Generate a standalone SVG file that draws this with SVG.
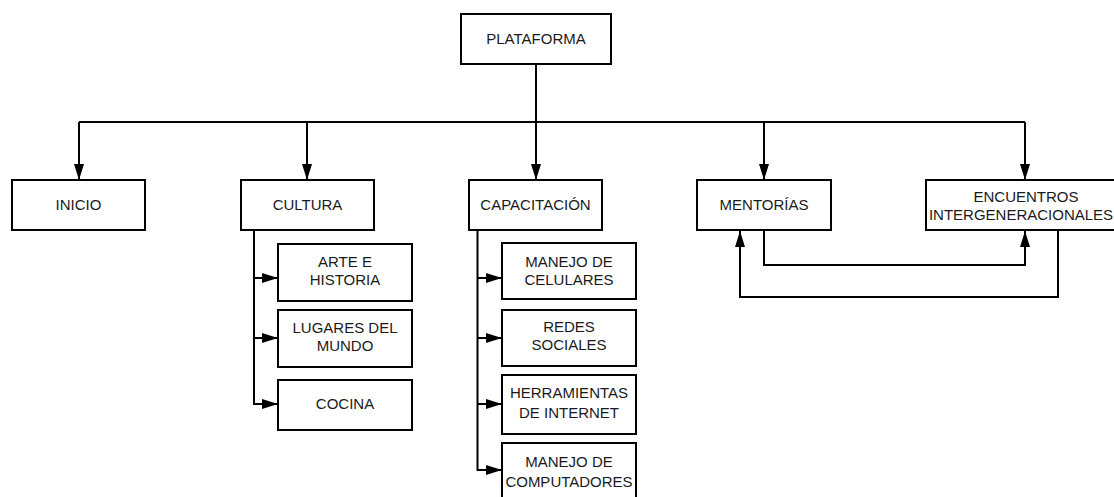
<svg xmlns="http://www.w3.org/2000/svg" width="1114" height="497" viewBox="0 0 1114 497">
<defs>
<marker id="arr" markerWidth="16" markerHeight="10" refX="16" refY="5" orient="auto" markerUnits="userSpaceOnUse">
<path d="M0,0 L16,5 L0,10 Z" fill="#000"/>
</marker>
<style>
.box{fill:#fff;stroke:#000;stroke-width:2}
.t{font-family:"Liberation Sans",Arial,sans-serif;font-size:15px;fill:#1a1a1a;text-anchor:middle}
.c{fill:none;stroke:#000;stroke-width:2}
</style>
</defs>
<rect width="1114" height="497" fill="#fff"/>
<g id="connectors">
<path class="c" d="M536,64 V180" marker-end="url(#arr)"/>
<path class="c" d="M79,122 H1025"/>
<path class="c" d="M79,122 V180" marker-end="url(#arr)"/>
<path class="c" d="M307,122 V180" marker-end="url(#arr)"/>
<path class="c" d="M764,122 V180" marker-end="url(#arr)"/>
<path class="c" d="M1025,122 V180" marker-end="url(#arr)"/>
<path class="c" d="M254,231 V404 H278" marker-end="url(#arr)"/>
<path class="c" d="M254,278 H278" marker-end="url(#arr)"/>
<path class="c" d="M254,338 H278" marker-end="url(#arr)"/>
<path class="c" d="M477.5,231 V470 H502" marker-end="url(#arr)"/>
<path class="c" d="M477.5,278 H502" marker-end="url(#arr)"/>
<path class="c" d="M477.5,338 H502" marker-end="url(#arr)"/>
<path class="c" d="M477.5,404 H502" marker-end="url(#arr)"/>
<path class="c" d="M764,231 V265 H1025 V231" marker-end="url(#arr)"/>
<path class="c" d="M1058,231 V297 H740 V231" marker-end="url(#arr)"/>
</g>
<g id="plataforma"><rect class="box" x="461" y="14" width="150" height="50"/><text class="t" x="536" y="44">PLATAFORMA</text></g>
<g id="inicio"><rect class="box" x="12" y="180" width="133" height="50"/><text class="t" x="78.5" y="210">INICIO</text></g>
<g id="cultura"><rect class="box" x="241" y="180" width="133" height="50"/><text class="t" x="307.5" y="210">CULTURA</text></g>
<g id="capacitacion"><rect class="box" x="469" y="180" width="133" height="50"/><text class="t" x="535.5" y="210">CAPACITACIÓN</text></g>
<g id="mentorias"><rect class="box" x="697" y="180" width="134" height="50"/><text class="t" x="764" y="210">MENTORÍAS</text></g>
<g id="encuentros"><rect class="box" x="926" y="180" width="200" height="50"/><text class="t" x="1026" y="202">ENCUENTROS</text><text class="t" x="1021" y="220">INTERGENERACIONALES</text></g>
<g id="arte"><rect class="box" x="278" y="244" width="134" height="57"/><text class="t" x="345" y="267">ARTE E</text><text class="t" x="345" y="285">HISTORIA</text></g>
<g id="lugares"><rect class="box" x="278" y="310" width="134" height="57"/><text class="t" x="345" y="333">LUGARES DEL</text><text class="t" x="345" y="351">MUNDO</text></g>
<g id="cocina"><rect class="box" x="278" y="380" width="134" height="50"/><text class="t" x="345" y="409">COCINA</text></g>
<g id="celulares"><rect class="box" x="502" y="243" width="134" height="56"/><text class="t" x="569" y="267">MANEJO DE</text><text class="t" x="569" y="285">CELULARES</text></g>
<g id="redes"><rect class="box" x="502" y="310" width="134" height="56"/><text class="t" x="569" y="332">REDES</text><text class="t" x="569" y="350">SOCIALES</text></g>
<g id="herramientas"><rect class="box" x="502" y="375" width="134" height="59"/><text class="t" x="569" y="398">HERRAMIENTAS</text><text class="t" x="569" y="418">DE INTERNET</text></g>
<g id="computadores"><rect class="box" x="502" y="443" width="134" height="58"/><text class="t" x="569" y="467">MANEJO DE</text><text class="t" x="569" y="487">COMPUTADORES</text></g>
</svg>
